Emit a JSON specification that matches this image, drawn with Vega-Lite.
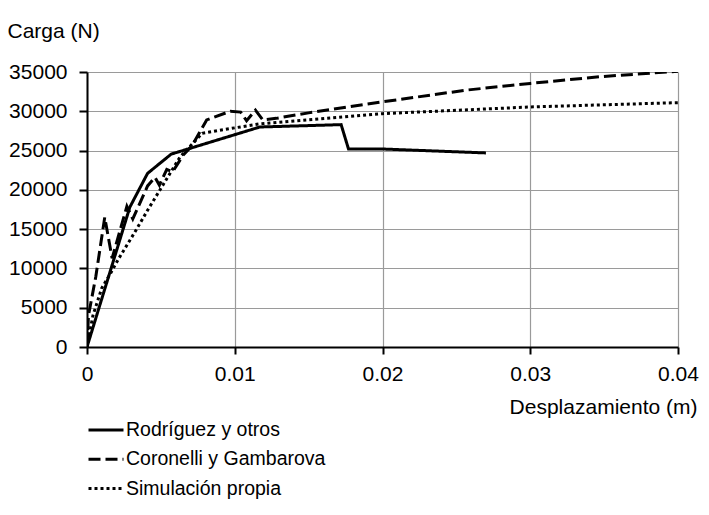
{
  "$schema": "https://vega.github.io/schema/vega-lite/v6.json",
  "autosize": "none",
  "width": 591,
  "height": 275,
  "padding": {"left": 87, "top": 72, "right": 31, "bottom": 168},
  "background": "white",
  "config": {
    "view": {"stroke": null},
    "font": "Liberation Sans"
  },
  "data": {
    "values": [
      {"serie": "Rodríguez y otros", "x": 0, "y": 0},
      {"serie": "Rodríguez y otros", "x": 0.0015, "y": 9200},
      {"serie": "Rodríguez y otros", "x": 0.0029, "y": 17800},
      {"serie": "Rodríguez y otros", "x": 0.0041, "y": 22100},
      {"serie": "Rodríguez y otros", "x": 0.0057, "y": 24550},
      {"serie": "Rodríguez y otros", "x": 0.0117, "y": 28000},
      {"serie": "Rodríguez y otros", "x": 0.0172, "y": 28300},
      {"serie": "Rodríguez y otros", "x": 0.0177, "y": 25200},
      {"serie": "Rodríguez y otros", "x": 0.020, "y": 25200},
      {"serie": "Rodríguez y otros", "x": 0.027, "y": 24700},

      {"serie": "Coronelli y Gambarova", "x": 0, "y": 0},
      {"serie": "Coronelli y Gambarova", "x": 0.0001, "y": 4000},
      {"serie": "Coronelli y Gambarova", "x": 0.0006, "y": 9000},
      {"serie": "Coronelli y Gambarova", "x": 0.0012, "y": 16500},
      {"serie": "Coronelli y Gambarova", "x": 0.0017, "y": 11300},
      {"serie": "Coronelli y Gambarova", "x": 0.0027, "y": 17900},
      {"serie": "Coronelli y Gambarova", "x": 0.0031, "y": 16300},
      {"serie": "Coronelli y Gambarova", "x": 0.0041, "y": 20500},
      {"serie": "Coronelli y Gambarova", "x": 0.0046, "y": 21600},
      {"serie": "Coronelli y Gambarova", "x": 0.0049, "y": 20600},
      {"serie": "Coronelli y Gambarova", "x": 0.0054, "y": 22600},
      {"serie": "Coronelli y Gambarova", "x": 0.0058, "y": 22300},
      {"serie": "Coronelli y Gambarova", "x": 0.0065, "y": 24400},
      {"serie": "Coronelli y Gambarova", "x": 0.0071, "y": 25600},
      {"serie": "Coronelli y Gambarova", "x": 0.0081, "y": 28900},
      {"serie": "Coronelli y Gambarova", "x": 0.0097, "y": 30000},
      {"serie": "Coronelli y Gambarova", "x": 0.0104, "y": 29900},
      {"serie": "Coronelli y Gambarova", "x": 0.0108, "y": 28800},
      {"serie": "Coronelli y Gambarova", "x": 0.0114, "y": 30150},
      {"serie": "Coronelli y Gambarova", "x": 0.0119, "y": 28900},
      {"serie": "Coronelli y Gambarova", "x": 0.0128, "y": 29100},
      {"serie": "Coronelli y Gambarova", "x": 0.0150, "y": 29800},
      {"serie": "Coronelli y Gambarova", "x": 0.0200, "y": 31200},
      {"serie": "Coronelli y Gambarova", "x": 0.0257, "y": 32700},
      {"serie": "Coronelli y Gambarova", "x": 0.0300, "y": 33550},
      {"serie": "Coronelli y Gambarova", "x": 0.0347, "y": 34400},
      {"serie": "Coronelli y Gambarova", "x": 0.0400, "y": 35100},

      {"serie": "Simulación propia", "x": 0, "y": 0},
      {"serie": "Simulación propia", "x": 0.0004, "y": 4000},
      {"serie": "Simulación propia", "x": 0.0010, "y": 7500},
      {"serie": "Simulación propia", "x": 0.0016, "y": 9400},
      {"serie": "Simulación propia", "x": 0.0021, "y": 11100},
      {"serie": "Simulación propia", "x": 0.0032, "y": 14500},
      {"serie": "Simulación propia", "x": 0.0041, "y": 17400},
      {"serie": "Simulación propia", "x": 0.0052, "y": 20800},
      {"serie": "Simulación propia", "x": 0.0063, "y": 24200},
      {"serie": "Simulación propia", "x": 0.0078, "y": 27200},
      {"serie": "Simulación propia", "x": 0.0097, "y": 27800},
      {"serie": "Simulación propia", "x": 0.0117, "y": 28400},
      {"serie": "Simulación propia", "x": 0.0200, "y": 29700},
      {"serie": "Simulación propia", "x": 0.0300, "y": 30550},
      {"serie": "Simulación propia", "x": 0.0400, "y": 31100}
    ]
  },
  "mark": {"type": "line", "color": "black", "strokeWidth": 3, "clip": true},
  "encoding": {
    "x": {
      "field": "x",
      "type": "quantitative",
      "scale": {"domain": [0, 0.04], "nice": false, "zero": true},
      "axis": {
        "values": [0, 0.01, 0.02, 0.03, 0.04],
        "format": "~g",
        "title": "Desplazamiento (m)",
        "titleFont": "Liberation Sans",
        "titleFontSize": 21,
        "titleFontWeight": "normal",
        "titleColor": "black",
        "titleAlign": "right",
        "titleAnchor": null,
        "titleX": 610,
        "titleY": 60,
        "titleBaseline": "middle",
        "labelFontSize": 21,
        "labelColor": "black",
        "labelPadding": 9,
        "labelFlush": false,
        "labelOverlap": false,
        "tickSize": 7,
        "tickColor": "black",
        "tickWidth": 2,
        "domainColor": "black",
        "domainWidth": 2,
        "grid": true,
        "gridColor": "#9a9a9a",
        "gridWidth": 1.2
      }
    },
    "y": {
      "field": "y",
      "type": "quantitative",
      "scale": {"domain": [0, 35000], "nice": false},
      "axis": {
        "values": [0, 5000, 10000, 15000, 20000, 25000, 30000, 35000],
        "format": "d",
        "title": "Carga (N)",
        "titleFont": "Liberation Sans",
        "titleFontSize": 21,
        "titleFontWeight": "normal",
        "titleColor": "black",
        "titleAngle": 0,
        "titleAlign": "left",
        "titleAnchor": null,
        "titleX": -80,
        "titleY": -41,
        "titleBaseline": "middle",
        "labelFontSize": 21,
        "labelColor": "black",
        "labelPadding": 12,
        "labelFlush": false,
        "labelOverlap": false,
        "tickSize": 8,
        "tickColor": "black",
        "tickWidth": 2,
        "domainColor": "black",
        "domainWidth": 2,
        "grid": true,
        "gridColor": "#9a9a9a",
        "gridWidth": 1.2
      }
    },
    "strokeDash": {
      "field": "serie",
      "type": "nominal",
      "scale": {
        "domain": ["Rodríguez y otros", "Coronelli y Gambarova", "Simulación propia"],
        "range": [[1, 0], [12, 5], [3, 3]]
      },
      "legend": {
        "title": null,
        "orient": "none",
        "legendX": 0,
        "legendY": 339,
        "symbolType": "stroke",
        "symbolSize": 1225,
        "symbolStrokeWidth": 3,
        "symbolStrokeColor": "black",
        "labelFontSize": 19.5,
        "labelColor": "black",
        "labelLimit": 400,
        "labelOffset": 1,
        "rowPadding": 0.3,
        "symbolOffset": 0
      }
    }
  }
}
